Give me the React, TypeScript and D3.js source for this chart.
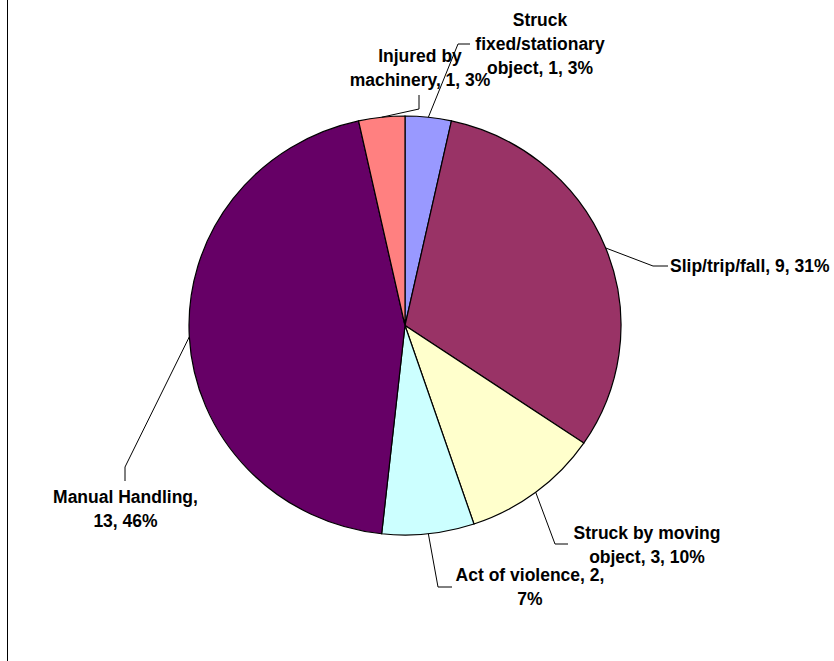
import React from "react";
import * as d3 from "d3";

const categories = [
  "Struck fixed/stationary object",
  "Slip/trip/fall",
  "Struck by moving object",
  "Act of violence",
  "Manual Handling",
  "Injured by machinery",
];
const values = [1, 9, 3, 2, 13, 1];
const percentLabels = ["3%", "31%", "10%", "7%", "46%", "3%"];

// styling
const colors = ["#9999FF", "#993366", "#FFFFCC", "#CCFFFF", "#660066", "#FF8080"];

// layout for labels: words per line, text anchor (center x / left x), first line center y, elbow, end of leader
const labelLayout = [
  { lines: [1, 1, 3], x: 540, y: 20, anchor: "middle", elbow: [458, 44], end: [470, 44] },
  { lines: [4], x: 670, y: 266, anchor: "start", elbow: [653, 266], end: [668, 266] },
  { lines: [3, 3], x: 647, y: 533, anchor: "middle", elbow: [555, 544], end: [568, 544] },
  { lines: [4, 1], x: 530, y: 575, anchor: "middle", elbow: [438, 587], end: [452, 587] },
  { lines: [2, 2], x: 125.5, y: 497, anchor: "middle", elbow: [125, 467], end: [125, 481] },
  { lines: [2, 3], x: 420, y: 56, anchor: "middle", elbow: [419, 109], end: [419, 95] },
];

const W = 834;
const H = 661;
const cx = 405;
const cy = 325.5;
const rx = 216;
const ry = 209.5;
const lineH = 24;

export default function App() {
  const pie = d3
    .pie<number>()
    .sort(null)
    .value((d) => d)
    .startAngle(0)
    .endAngle(2 * Math.PI);
  const arcs = pie(values);
  const arc = d3.arc<d3.PieArcDatum<number>>().innerRadius(0).outerRadius(rx);

  const labels = arcs.map((a, i) => {
    const mid = (a.startAngle + a.endAngle) / 2;
    const sx = cx + rx * Math.sin(mid);
    const sy = cy - ry * Math.cos(mid);
    const words = `${categories[i]}, ${values[i]}, ${percentLabels[i]}`.split(" ");
    const lay = labelLayout[i];
    const lines: string[] = [];
    let k = 0;
    lay.lines.forEach((n) => {
      lines.push(words.slice(k, k + n).join(" "));
      k += n;
    });
    return { sx, sy, lines, lay };
  });

  return (
    <svg
      width={W}
      height={H}
      style={{ position: "absolute", left: 0, top: 0, background: "#fff" }}
      fontFamily="'Liberation Sans', Arial, sans-serif"
    >
      <rect x={0} y={0} width={W} height={H} fill="#fff" />
      <line x1={7.5} y1={0} x2={7.5} y2={H} stroke="#000" strokeWidth={1} />
      <g transform={`translate(${cx},${cy}) scale(1,${ry / rx})`}>
        {arcs.map((a, i) => (
          <path
            key={i}
            d={arc(a) || ""}
            fill={colors[i]}
            stroke="#000"
            strokeWidth={1.2}
            vectorEffect="non-scaling-stroke"
          />
        ))}
      </g>
      {labels.map((l, i) => (
        <g key={i}>
          <polyline
            points={`${l.sx},${l.sy} ${l.lay.elbow[0]},${l.lay.elbow[1]} ${l.lay.end[0]},${l.lay.end[1]}`}
            fill="none"
            stroke="#000"
            strokeWidth={1}
          />
          <text
            fontSize={17.5}
            fontWeight="bold"
            fill="#000"
            textAnchor={l.lay.anchor as any}
          >
            {l.lines.map((t, j) => (
              <tspan key={j} x={l.lay.x} y={l.lay.y + j * lineH} dominantBaseline="central">
                {t}
              </tspan>
            ))}
          </text>
        </g>
      ))}
    </svg>
  );
}
